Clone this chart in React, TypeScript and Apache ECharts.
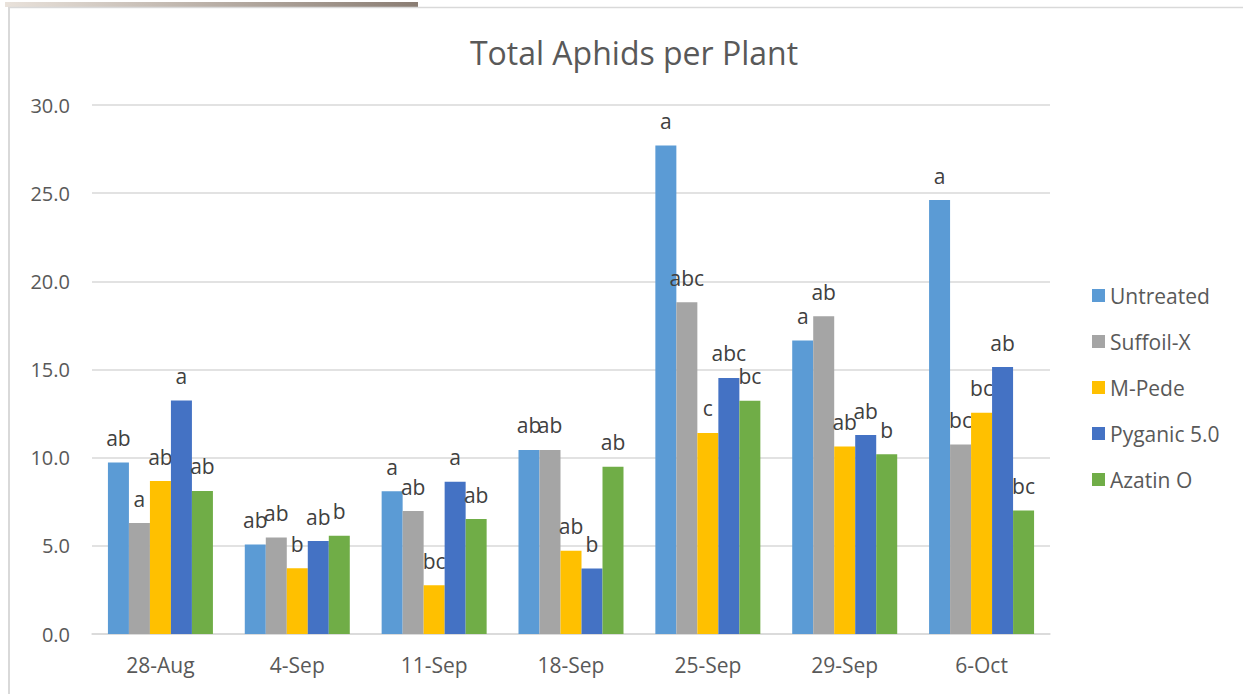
import React, { useEffect, useRef } from "react";
import * as echarts from "echarts";

const categories = ["28-Aug", "4-Sep", "11-Sep", "18-Sep", "25-Sep", "29-Sep", "6-Oct"];
const seriesNames = ["Untreated", "Suffoil-X", "M-Pede", "Pyganic 5.0", "Azatin O"];
const seriesColors = ["#5B9BD5", "#A5A5A5", "#FFC000", "#4472C4", "#70AD47"];

const untreated = [9.73, 5.08, 8.09, 10.44, 27.71, 16.65, 24.61];
const suffoilX = [6.29, 5.47, 6.97, 10.44, 18.82, 18.02, 10.74];
const mPede = [8.67, 3.73, 2.77, 4.72, 11.4, 10.64, 12.55];
const pyganic = [13.24, 5.27, 8.64, 3.71, 14.52, 11.28, 15.14];
const azatin = [8.11, 5.57, 6.52, 9.49, 13.23, 10.19, 7.0];

const untreatedLetters = ["ab", "ab", "a", "ab", "a", "a", "a"];
const suffoilLetters = ["a", "ab", "ab", "ab", "abc", "ab", "bc"];
const mPedeLetters = ["ab", "b", "bc", "ab", "c", "ab", "bc"];
const pyganicLetters = ["a", "ab", "a", "b", "abc", "ab", "ab"];
const azatinLetters = ["ab", "b", "ab", "ab", "bc", "b", "bc"];

const yTicks = { min: 0, max: 30, interval: 5 };
const titleText = "Total Aphids per Plant";

const FONT = "'Open Sans', 'Noto Sans', sans-serif";
const TEXT = "#595959";

export default function App() {
  const ref = useRef<HTMLDivElement>(null);
  useEffect(() => {
    if (!ref.current) return;
    const chart = echarts.init(ref.current, undefined, { renderer: "svg" });
    const values = [untreated, suffoilX, mPede, pyganic, azatin];
    const letters = [untreatedLetters, suffoilLetters, mPedeLetters, pyganicLetters, azatinLetters];
    chart.setOption({
      animation: false,
      backgroundColor: "#ffffff",
      textStyle: { fontFamily: FONT },
      title: {
        text: titleText,
        left: 629,
        textAlign: "center",
        top: 31,
        textStyle: { fontFamily: FONT, fontSize: 32, fontWeight: "normal", color: TEXT },
      },
      graphic: [
        {
          type: "rect",
          shape: { x: 5, y: 2, width: 413, height: 5 },
          style: {
            fill: new echarts.graphic.LinearGradient(0, 0, 1, 0, [
              { offset: 0, color: "#e9e2db" },
              { offset: 1, color: "#8a7d73" },
            ]),
          },
          silent: true,
        },
        {
          type: "line",
          shape: { x1: 8, y1: 7.5, x2: 1243, y2: 7.5 },
          style: { stroke: "#d9d9d9", lineWidth: 1.5 },
          silent: true,
        },
        {
          type: "line",
          shape: { x1: 9, y1: 7, x2: 9, y2: 694 },
          style: { stroke: "#d9d9d9", lineWidth: 2 },
          silent: true,
        },
      ],
      legend: {
        orient: "vertical",
        left: 1087,
        top: 280,
        itemWidth: 13,
        itemHeight: 13,
        itemGap: 25,
        icon: "rect",
        data: seriesNames,
        textStyle: { fontFamily: FONT, fontSize: 21, color: TEXT, lineHeight: 20 },
      },
      grid: { left: 92, right: 193, top: 105, bottom: 60, containLabel: false },
      xAxis: {
        type: "category",
        data: categories,
        axisLine: { lineStyle: { color: "#d9d9d9", width: 1.5 } },
        axisTick: { show: false },
        axisLabel: { fontFamily: FONT, fontSize: 21, color: TEXT, margin: 20 },
      },
      yAxis: {
        type: "value",
        min: yTicks.min,
        max: yTicks.max,
        interval: yTicks.interval,
        axisLine: { show: false },
        axisTick: { show: false },
        splitLine: { lineStyle: { color: "#d9d9d9", width: 1.5 } },
        axisLabel: {
          fontFamily: FONT,
          fontSize: 20,
          color: TEXT,
          margin: 22,
          formatter: (v: number) => v.toFixed(1),
        },
      },
      series: seriesNames.map((name, i) => ({
        name,
        type: "bar",
        z: 2 + i,
        barWidth: 21,
        barGap: "0%",
        itemStyle: { color: seriesColors[i] },
        label: {
          show: true,
          position: "top",
          distance: 14,
          fontFamily: FONT,
          fontSize: 21,
          color: "#404040",
          formatter: (p: any) => letters[i][p.dataIndex],
        },
        data: values[i],
      })),
    });
    return () => chart.dispose();
  }, []);
  return (
    <div
      ref={ref}
      style={{ position: "fixed", left: 0, top: 0, width: 1243, height: 694 }}
    />
  );
}
